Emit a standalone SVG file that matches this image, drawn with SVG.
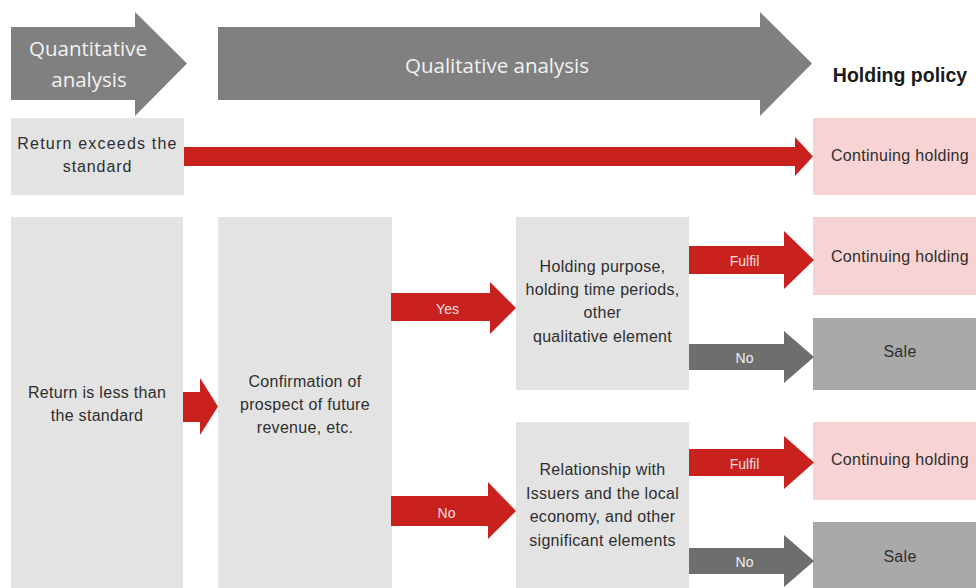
<svg xmlns="http://www.w3.org/2000/svg" width="976" height="588" viewBox="0 0 976 588">
<style>
.hdr{fill:#808080}
.box{fill:#e3e3e3}
.pink{fill:#f8d3d3}
.sale{fill:#a9a9a9}
.red{fill:#c9211e}
.gray{fill:#6e6e6e}
.t{font-family:"Liberation Sans",Arial,sans-serif;font-size:16px;fill:#2e2e2e;text-anchor:middle;letter-spacing:0.3px}
.h{font-family:"Open Sans","Noto Sans",sans-serif;font-size:20.5px;fill:#f2f2f2;text-anchor:middle}
.lbl{font-family:"Liberation Sans",Arial,sans-serif;font-size:14px;text-anchor:middle;fill:#f6e0e0}
.lblg{font-family:"Liberation Sans",Arial,sans-serif;font-size:14px;text-anchor:middle;fill:#f0f0f0}
.b{font-family:"Liberation Sans",Arial,sans-serif;font-size:19.5px;font-weight:bold;fill:#1a1a1a;text-anchor:middle}
</style>
<rect width="976" height="588" fill="#ffffff"/>
<g id="header-quantitative">
<polygon class="hdr" points="11,27 135,27 135,12 187,63.5 135,116 135,100 11,100"/>
<text class="h" x="88" y="56">Quantitative</text>
<text class="h" x="89" y="87">analysis</text>
</g>
<g id="header-qualitative">
<polygon class="hdr" points="218,27 760,27 760,12 812,63.5 760,116 760,100 218,100"/>
<text class="h" x="497" y="73">Qualitative analysis</text>
</g>
<g id="header-holding-policy">
<text class="b" x="900" y="82">Holding policy</text>
</g>
<g id="return-exceeds">
<rect class="box" x="11" y="118" width="173" height="77"/>
<text class="t" x="97.5" y="149" style="letter-spacing:1.2px">Return exceeds the</text>
<text class="t" x="97.5" y="172" style="letter-spacing:0.9px">standard</text>
</g>
<g id="continuing-1">
<rect class="pink" x="813" y="118" width="163" height="77"/>
<text class="t" x="900" y="161">Continuing holding</text>
</g>
<g id="return-less">
<rect class="box" x="11" y="217" width="172" height="371"/>
<text class="t" x="97" y="398">Return is less than</text>
<text class="t" x="97" y="421">the standard</text>
</g>
<g id="confirmation">
<rect class="box" x="218" y="217" width="174" height="371"/>
<text class="t" x="305" y="387">Confirmation of</text>
<text class="t" x="305" y="410">prospect of future</text>
<text class="t" x="305" y="433">revenue, etc.</text>
</g>
<g id="holding-purpose">
<rect class="box" x="516" y="217" width="173" height="173"/>
<text class="t" x="602.5" y="272">Holding purpose,</text>
<text class="t" x="602.5" y="295">holding time periods,</text>
<text class="t" x="602.5" y="318">other</text>
<text class="t" x="602.5" y="342">qualitative element</text>
</g>
<g id="continuing-2">
<rect class="pink" x="813" y="217" width="163" height="78"/>
<text class="t" x="900" y="262">Continuing holding</text>
</g>
<g id="sale-1">
<rect class="sale" x="813" y="318" width="163" height="72"/>
<text class="t" x="900" y="357">Sale</text>
</g>
<g id="relationship">
<rect class="box" x="516" y="422" width="173" height="166"/>
<text class="t" x="602.5" y="475">Relationship with</text>
<text class="t" x="602.5" y="499">Issuers and the local</text>
<text class="t" x="602.5" y="522">economy, and other</text>
<text class="t" x="602.5" y="546">significant elements</text>
</g>
<g id="continuing-3">
<rect class="pink" x="813" y="422" width="163" height="78"/>
<text class="t" x="900" y="465">Continuing holding</text>
</g>
<g id="sale-2">
<rect class="sale" x="813" y="522" width="163" height="66"/>
<text class="t" x="900" y="562">Sale</text>
</g>
<g id="connectors">
<polygon class="red" points="184,147 795,147 795,137 813,156.5 795,176 795,166 184,166"/>
<polygon class="red" points="183,392 200,392 200,378 218,406.5 200,435 200,422 183,422"/>
<polygon class="red" points="391,293 490,293 490,282 516,308 490,334 490,321 391,321"/>
<text class="lbl" x="447.5" y="314">Yes</text>
<polygon class="red" points="391,496 488,496 488,482 516,511 488,539 488,526 391,526"/>
<text class="lbl" x="446.5" y="518">No</text>
<polygon class="red" points="689,246 784,246 784,231 814,260 784,289 784,274 689,274"/>
<text class="lbl" x="744.5" y="266">Fulfil</text>
<polygon class="gray" points="689,344 784,344 784,331 814,357 784,383 784,370 689,370"/>
<text class="lblg" x="744.5" y="363">No</text>
<polygon class="red" points="689,449 784,449 784,436 814,462.5 784,489 784,476 689,476"/>
<text class="lbl" x="744.5" y="469">Fulfil</text>
<polygon class="gray" points="689,548 784,548 784,535 814,561 784,587 784,574 689,574"/>
<text class="lblg" x="744.5" y="567">No</text>
</g>
</svg>
